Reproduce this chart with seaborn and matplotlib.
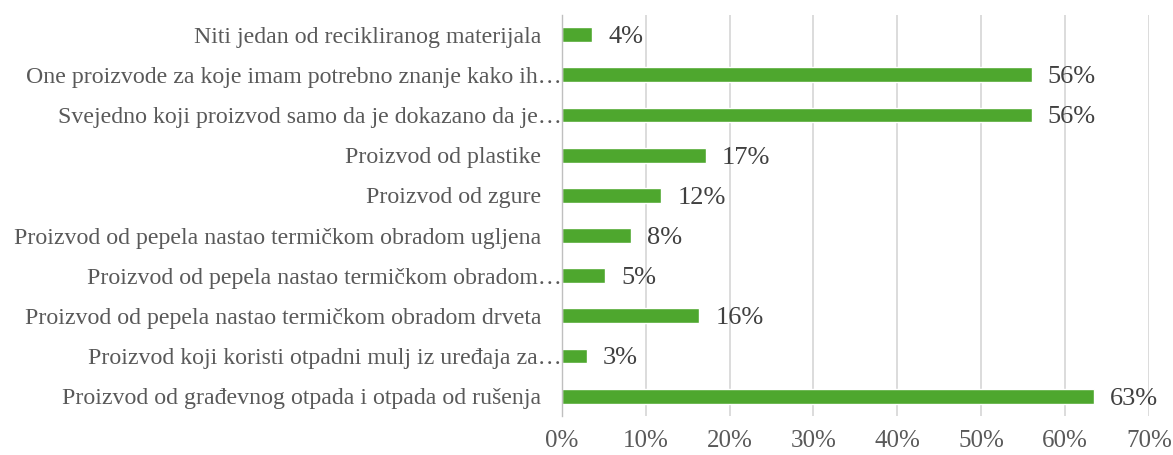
import matplotlib
matplotlib.use("Agg")
import matplotlib.pyplot as plt
import seaborn as sns
import pandas as pd
from matplotlib.ticker import FixedLocator, PercentFormatter
from matplotlib.transforms import ScaledTranslation

categories = [
    "Niti jedan od recikliranog materijala",
    "One proizvode za koje imam potrebno znanje kako ih…",
    "Svejedno koji proizvod samo da je dokazano da je…",
    "Proizvod od plastike",
    "Proizvod od zgure",
    "Proizvod od pepela nastao termičkom obradom ugljena",
    "Proizvod od pepela nastao termičkom obradom…",
    "Proizvod od pepela nastao termičkom obradom drveta",
    "Proizvod koji koristi otpadni mulj iz uređaja za…",
    "Proizvod od građevnog otpada i otpada od rušenja",
]
shares = [3.65, 56.0, 56.0, 17.2, 11.85, 8.2, 5.2, 16.4, 2.95, 63.4]
x_ticks = [0, 10, 20, 30, 40, 50, 60, 70]

df = pd.DataFrame({"kategorija": categories, "udio": shares})

sns.set_theme(style="white")
plt.rcParams["font.family"] = ["Liberation Serif", "DejaVu Serif"]

text_color = "#595959"
bar_color = "#4EA72E"

fig = plt.figure(figsize=(11.73, 4.55), dpi=100)
ax = fig.add_axes([0.479, 0.085, 0.5005, 0.883])

sns.barplot(data=df, x="udio", y="kategorija", orient="h", color=bar_color,
            width=0.37, saturation=1, ax=ax, zorder=3)

ax.set_xlim(0, 70)
ax.set_ylim(len(categories) - 0.5, -0.5)
ax.xaxis.set_major_locator(FixedLocator(x_ticks))
ax.xaxis.set_major_formatter(PercentFormatter(decimals=0))
ax.grid(axis="x", color="#D9D9D9", linewidth=1.3, zorder=0)
ax.grid(axis="y", visible=False)

for side in ("top", "right", "bottom"):
    ax.spines[side].set_visible(False)
ax.spines["left"].set_color("#BFBFBF")
ax.spines["left"].set_linewidth(1.0)
ax.spines["left"].set_zorder(4)

ax.set_xlabel("")
ax.set_ylabel("")
ax.tick_params(axis="x", length=0, pad=10, labelsize=18, labelcolor=text_color)
ax.tick_params(axis="y", which="major", length=0, pad=15, labelsize=17.2,
               labelcolor=text_color)
ax.set_yticks([i - 0.5 for i in range(len(categories) + 1)], minor=True)
ax.tick_params(axis="y", which="minor", length=6, width=1.0, color="#BFBFBF",
               direction="out")

# truncated category names run right up to the axis line
shift = ScaledTranslation(0.21, 0, fig.dpi_scale_trans)
for lbl in ax.get_yticklabels():
    if lbl.get_text().endswith("…"):
        lbl.set_transform(lbl.get_transform() + shift)

for i, v in enumerate(shares):
    ax.text(v + 1.9, i + 0.06, f"{round(v):d}%", va="center", ha="left",
            fontsize=19, color="#404040")

fig.savefig("out.png", dpi=100)
